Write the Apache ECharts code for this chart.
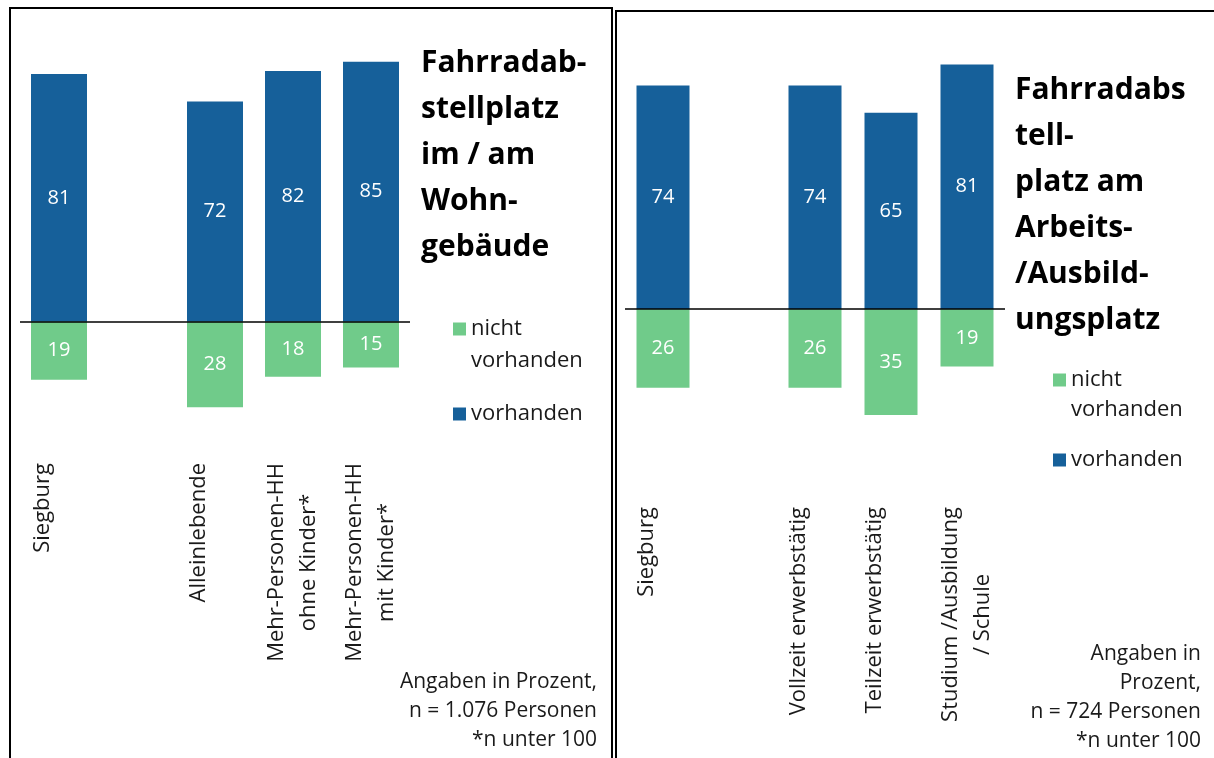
<!DOCTYPE html>
<html>
<head>
<meta charset="utf-8">
<script src="https://cdn.jsdelivr.net/npm/echarts@6/dist/echarts.min.js"></script>
<style>
  html, body { margin: 0; padding: 0; background: #fff; }
  #chart { width: 1214px; height: 758px; }
</style>
</head>
<body>
<div id="chart"></div>
<script>
// left panel: Wohngebäude
var leftCats = ["Siegburg", "", "Alleinlebende", "Mehr-Personen-HH\nohne Kinder*", "Mehr-Personen-HH\nmit Kinder*"];
var leftYes = [81, null, 72, 82, 85];
var leftNo = [19, null, 28, 18, 15];

// right panel: Arbeits-/Ausbildungsplatz
var rightCats = ["Siegburg", "", "Vollzeit erwerbstätig", "Teilzeit erwerbstätig", "Studium /Ausbildung\n/ Schule"];
var rightYes = [74, null, 74, 65, 81];
var rightNo = [26, null, 26, 35, 19];

var legendNames = ["nicht vorhanden", "vorhanden"];

var BLUE = "#16609a";
var GREEN = "#70cb8a";
var FONT = "Open Sans";

var chart = echarts.init(document.getElementById("chart"));

function neg(arr) {
  return arr.map(function (v) { return v == null ? null : -v; });
}

function catLabel(margin) {
  return {
    interval: 0,
    rotate: 90,
    margin: margin,
    formatter: function (v) {
      if (!v) return "";
      var lines = v.split("\n");
      // Excel keeps room for a second line, so single labels sit a bit left
      if (lines.length === 1) lines.push(" ");
      return lines.map(function (s) { return "{c|" + s + "}"; }).join("\n");
    },
    rich: {
      c: { align: "center", fontFamily: FONT, fontSize: 22, color: "#1a1a1a", lineHeight: 32 }
    }
  };
}

function barSeries(name, data, color, idx, width, zeroLine) {
  var s = {
    name: name,
    type: "bar",
    xAxisIndex: idx,
    yAxisIndex: idx,
    stack: "p" + idx,
    barWidth: width,
    data: data,
    itemStyle: { color: color },
    label: {
      show: true,
      position: "inside",
      color: "#fff",
      fontFamily: FONT,
      fontSize: 20,
      formatter: function (p) { return Math.abs(p.value); }
    }
  };
  if (zeroLine) {
    s.markLine = {
      silent: true,
      symbol: "none",
      label: { show: false },
      lineStyle: { color: "#000", width: 1.6, type: "solid" },
      data: [{ yAxis: 0 }]
    };
  }
  return s;
}

function legendFor(left, top, gap, lh) {
  return {
    orient: "vertical",
    left: left,
    top: top,
    padding: 0,
    itemWidth: 13,
    itemHeight: 13,
    itemGap: gap,
    icon: "rect",
    data: legendNames,
    // leading blank line puts "nicht" level with the marker
    formatter: function (n) { return n === "nicht vorhanden" ? " \nnicht\nvorhanden" : n; },
    textStyle: { fontFamily: FONT, fontSize: 22, color: "#1a1a1a", lineHeight: lh }
  };
}

var option = {
  animation: false,
  title: [
    {
      text: "Fahrradab-\nstellplatz\nim / am\nWohn-\ngebäude",
      left: 416,
      top: 35,
      textStyle: { fontFamily: FONT, fontSize: 30, fontWeight: "bold", color: "#000", lineHeight: 46 }
    },
    {
      text: "Fahrradabs\ntell-\nplatz am\nArbeits-\n/Ausbild-\nungsplatz",
      left: 1010,
      top: 62,
      textStyle: { fontFamily: FONT, fontSize: 30, fontWeight: "bold", color: "#000", lineHeight: 46 }
    }
  ],
  legend: [
    legendFor(453, 281, 21, 32),
    legendFor(1053, 335, 20, 30)
  ],
  grid: [
    { left: 20, width: 390, top: 16, height: 428 },
    { left: 625, width: 380, top: 7, height: 423 }
  ],
  xAxis: [
    {
      gridIndex: 0,
      type: "category",
      data: leftCats,
      axisLine: { show: false, onZero: false },
      axisTick: { show: false },
      axisLabel: catLabel(19)
    },
    {
      gridIndex: 1,
      type: "category",
      data: rightCats,
      axisLine: { show: false, onZero: false },
      axisTick: { show: false },
      axisLabel: catLabel(77)
    }
  ],
  yAxis: [
    { gridIndex: 0, type: "value", min: -40, max: 100, show: false },
    { gridIndex: 1, type: "value", min: -40, max: 100, show: false }
  ],
  series: [
    barSeries(legendNames[1], leftYes, BLUE, 0, 56, true),
    barSeries(legendNames[0], neg(leftNo), GREEN, 0, 56, false),
    barSeries(legendNames[1], rightYes, BLUE, 1, 53, true),
    barSeries(legendNames[0], neg(rightNo), GREEN, 1, 53, false)
  ],
  graphic: [
    // panel frames
    { type: "rect", shape: { x: 10, y: 8, width: 602, height: 800 }, style: { fill: null, stroke: "#000", lineWidth: 2 }, silent: true },
    { type: "rect", shape: { x: 616, y: 11, width: 700, height: 800 }, style: { fill: null, stroke: "#000", lineWidth: 2 }, silent: true },
    {
      type: "text", x: 597, y: 668,
      style: { text: "Angaben in Prozent,\nn = 1.076 Personen\n*n unter 100", align: "right", fontFamily: FONT, fontSize: 21, lineHeight: 29, fill: "#1a1a1a" }
    },
    {
      type: "text", x: 1201, y: 640,
      style: { text: "Angaben in\nProzent,\nn = 724 Personen\n*n unter 100", align: "right", fontFamily: FONT, fontSize: 21, lineHeight: 29, fill: "#1a1a1a" }
    }
  ]
};

chart.setOption(option);
</script>
</body>
</html>
